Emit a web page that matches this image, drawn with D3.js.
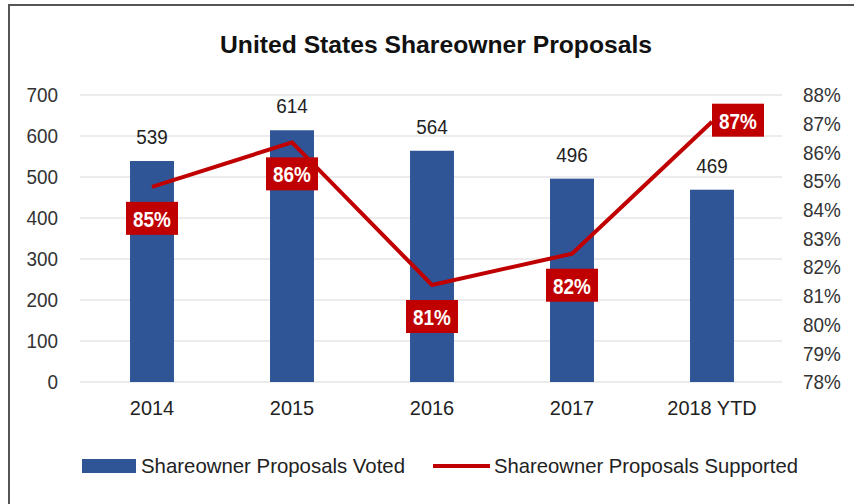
<!DOCTYPE html>
<html>
<head>
<meta charset="utf-8">
<script src="https://cdn.jsdelivr.net/npm/d3@7"></script>
<style>
  body { margin: 0; background: #fff; }
  svg { display: block; font-family: "Liberation Sans Narrow", "Arial Narrow", "Liberation Sans", sans-serif; }
</style>
</head>
<body>
<div class="div-chart"></div>
<script>
// chart data
const years = ["2014", "2015", "2016", "2017", "2018 YTD"];
const voted = [539, 614, 564, 496, 469];
const supported = [84.8, 86.35, 81.38, 82.47, 87.07];
const supportedLabels = ["85%", "86%", "81%", "82%", "87%"];
const leftTicks = [0, 100, 200, 300, 400, 500, 600, 700];
const rightTicks = [78, 79, 80, 81, 82, 83, 84, 85, 86, 87, 88];

const width = 854,
  height = 504;
const squeeze = 0.9; // no narrow font installed, so squash text horizontally

// move x/y into a transform so the text can be squeezed sideways
function narrow(sel, s = squeeze) {
  sel.each(function () {
    const t = d3.select(this);
    const tx = +t.attr("x") || 0,
      ty = +t.attr("y") || 0;
    t.attr("x", null).attr("y", null)
      .attr("transform", `translate(${tx},${ty}) scale(${s},1)`);
  });
}

const svg = d3
  .select(".div-chart")
  .append("svg")
  .attr("width", width)
  .attr("height", height);

// frame: only top and left edges show
svg.append("path")
  .attr("d", `M9,${height} V5 H${width}`)
  .attr("fill", "none")
  .attr("stroke", "#555")
  .attr("stroke-width", 2);

svg.append("text")
  .attr("x", 436)
  .attr("y", 53)
  .attr("text-anchor", "middle")
  .attr("font-size", 24)
  .attr("font-weight", "bold")
  .attr("fill", "#111")
  .attr("textLength", 432)
  .attr("lengthAdjust", "spacingAndGlyphs")
  .text("United States Shareowner Proposals");

const x = d3.scaleBand().domain(years).range([82, 782]).paddingInner(0.686).paddingOuter(0.343);
const yLeft = d3.scaleLinear().domain([0, 700]).range([382, 95]);
const yRight = d3.scaleLinear().domain([78, 88]).range([382, 95]);

// gridlines
svg.append("g")
  .selectAll("line")
  .data(leftTicks)
  .join("line")
  .attr("x1", 80)
  .attr("x2", 782)
  .attr("y1", (d) => yLeft(d))
  .attr("y2", (d) => yLeft(d))
  .attr("stroke", "#d9d9d9")
  .attr("stroke-width", 1);

// left axis
const leftAxis = svg.append("g")
  .attr("transform", "translate(80,0)")
  .call(d3.axisLeft(yLeft).tickValues(leftTicks).tickSize(0).tickPadding(22));
leftAxis.select(".domain").remove();
leftAxis.selectAll("text").attr("font-size", 21).attr("fill", "#333").attr("font-family", null).call(narrow);

// right axis
const rightAxis = svg.append("g")
  .attr("transform", "translate(782,0)")
  .call(d3.axisRight(yRight).tickValues(rightTicks).tickSize(0).tickPadding(21).tickFormat((d) => d + "%"));
rightAxis.select(".domain").remove();
rightAxis.selectAll("text").attr("font-size", 21).attr("fill", "#333").attr("font-family", null).call(narrow);

// bottom axis
const bottomAxis = svg.append("g")
  .attr("transform", "translate(0,382)")
  .call(d3.axisBottom(x).tickSize(0).tickPadding(18));
bottomAxis.select(".domain").remove();
bottomAxis.selectAll("text").attr("font-size", 21).attr("fill", "#222").attr("font-family", null).call(narrow, 0.95);

// bars
svg.append("g")
  .selectAll("rect")
  .data(voted)
  .join("rect")
  .attr("x", (d, i) => x(years[i]))
  .attr("y", (d) => yLeft(d))
  .attr("width", x.bandwidth())
  .attr("height", (d) => yLeft(0) - yLeft(d))
  .attr("fill", "#2F5597");

svg.append("g")
  .selectAll("text")
  .data(voted)
  .join("text")
  .attr("x", (d, i) => x(years[i]) + x.bandwidth() / 2)
  .attr("y", (d) => yLeft(d) - 17)
  .attr("text-anchor", "middle")
  .attr("font-size", 21)
  .attr("fill", "#222")
  .text((d) => d)
  .call(narrow);

// line
const cx = (i) => x(years[i]) + x.bandwidth() / 2;
const line = d3.line()
  .x((d, i) => cx(i))
  .y((d) => yRight(d));

svg.append("path")
  .datum(supported)
  .attr("d", line)
  .attr("fill", "none")
  .attr("stroke", "#C00000")
  .attr("stroke-width", 4)
  .attr("stroke-linejoin", "round");

// percent labels in red boxes
const labelG = svg.append("g")
  .selectAll("g")
  .data(supported)
  .join("g")
  .attr("transform", (d, i) => {
    const last = i === supported.length - 1;
    const lx = last ? cx(i) + 26 : cx(i);
    const ly = last ? yRight(d) - 1 : yRight(d) + 32;
    return `translate(${lx},${ly})`;
  });

labelG.append("rect")
  .attr("x", -26)
  .attr("y", -17)
  .attr("width", 52)
  .attr("height", 33)
  .attr("fill", "#C00000");

labelG.append("text")
  .attr("text-anchor", "middle")
  .attr("dy", "0.36em")
  .attr("font-size", 22)
  .attr("font-weight", "bold")
  .attr("fill", "#fff")
  .text((d, i) => supportedLabels[i])
  .call(narrow, 0.86);

// legend
svg.append("rect")
  .attr("x", 82)
  .attr("y", 459)
  .attr("width", 54)
  .attr("height", 14)
  .attr("fill", "#2F5597");
svg.append("text")
  .attr("x", 141)
  .attr("y", 473)
  .attr("font-size", 21)
  .attr("fill", "#222")
  .attr("textLength", 264)
  .attr("lengthAdjust", "spacingAndGlyphs")
  .text("Shareowner Proposals Voted");

svg.append("line")
  .attr("x1", 433)
  .attr("x2", 490)
  .attr("y1", 466)
  .attr("y2", 466)
  .attr("stroke", "#C00000")
  .attr("stroke-width", 4);
svg.append("text")
  .attr("x", 494)
  .attr("y", 473)
  .attr("font-size", 21)
  .attr("fill", "#222")
  .attr("textLength", 304)
  .attr("lengthAdjust", "spacingAndGlyphs")
  .text("Shareowner Proposals Supported");
</script>
</body>
</html>
